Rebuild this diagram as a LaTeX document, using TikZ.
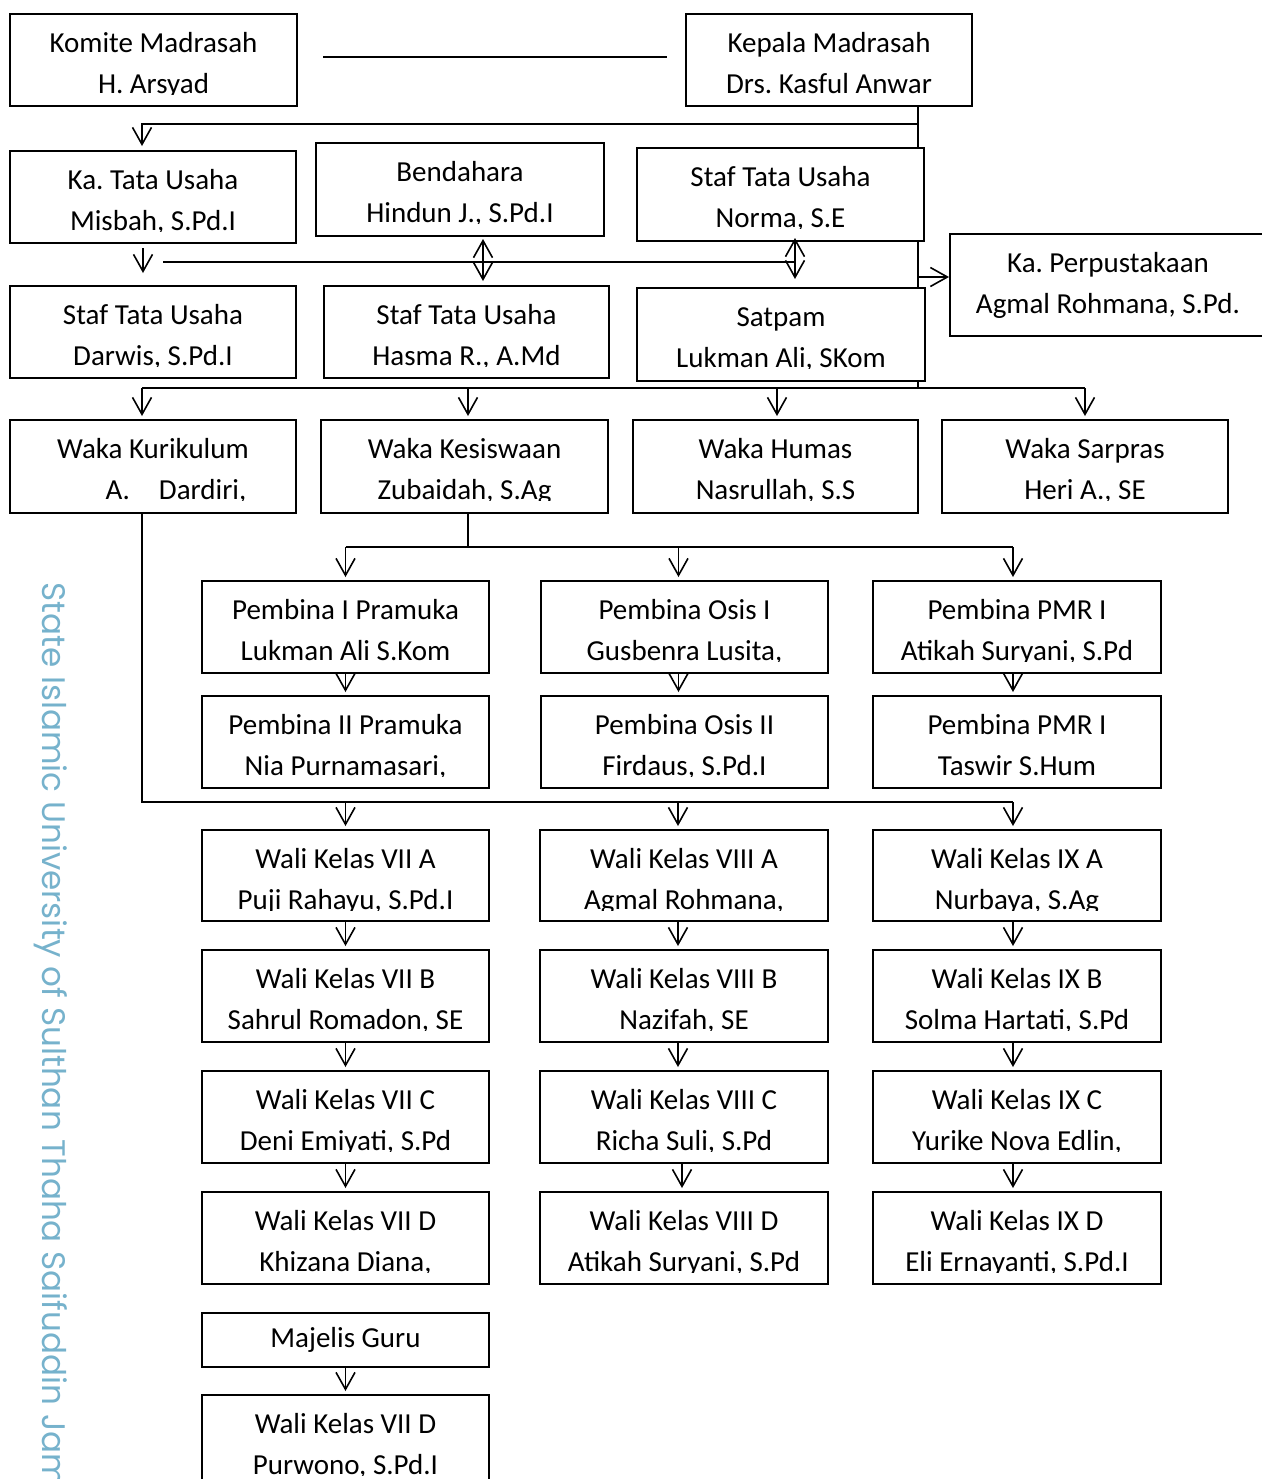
\documentclass[tikz,border=0pt]{standalone}
\usepackage{fontspec}
\setmainfont{Carlito}
\newfontfamily\wmfont{Poppins}
\usetikzlibrary{arrows.meta, backgrounds, calc}
\definecolor{wmblue}{RGB}{118,178,204}
\frenchspacing

\tikzset{
  cliptop/.initial=40.25pt,
  boxtext/.style={font=\fontsize{14.5}{17}\selectfont, inner sep=0pt, anchor=base,
    draw=none, fill=none, minimum width=0pt, minimum height=0pt},
  orgbox/.style 2 args={draw, fill=white, line width=1pt, inner sep=0pt,
    minimum width=143.5pt, minimum height=46pt,
    path picture={
      \clip ([yshift=-\pgfkeysvalueof{/tikz/cliptop}]path picture bounding box.north west) rectangle (path picture bounding box.north east);
      \node[boxtext] at ([yshift=-19.25pt]path picture bounding box.north) {#1};
      \node[boxtext] at ([yshift=-39.75pt]path picture bounding box.north) {#2};
    }},
  onebox/.style={draw, fill=white, line width=1pt, inner sep=0pt,
    minimum width=143.5pt, minimum height=27pt, font=\fontsize{14.5}{17}\selectfont},
  wmtext/.style={font=\wmfont\fontsize{16.3}{16.3}\selectfont, text=wmblue, inner sep=0pt},
  link/.style={line width=0.8pt},
  arr/.style={link, -{Straight Barb[length=8.5pt, width=9.5pt, line width=0.8pt]}},
  dblarr/.style={link, {Straight Barb[length=8.5pt, width=9.5pt, line width=0.8pt]}-{Straight Barb[length=8.5pt, width=9.5pt, line width=0.8pt]}},
}

\begin{document}
\begin{tikzpicture}[x=0.5pt, y=-0.5pt]
\useasboundingbox (0,0) rectangle (1262,1479);

\node[wmtext, rotate=-90, anchor=base west] (watermark) at (42,582) {State Islamic University of Sulthan Thaha Saifuddin Jam};

\node[orgbox={Komite Madrasah}{H. Arsyad}] (komite) at (153.5,60) {};
\node[orgbox={Kepala Madrasah}{Drs. Kasful Anwar}, minimum width=143pt] (kepala) at (829,60) {};

\node[orgbox={Ka. Tata Usaha}{Misbah, S.Pd.I}, minimum width=143pt] (katu) at (153,197) {};
\node[orgbox={Bendahara}{Hindun J., S.Pd.I}, minimum width=144pt, minimum height=46.5pt] (bendahara) at (460,189.5) {};
\node[orgbox={Staf Tata Usaha}{Norma, S.E}, minimum height=46.5pt] (stafnorma) at (780.5,194.5) {};
\node[orgbox={Ka. Perpustakaan}{Agmal Rohmana, S.Pd.}, minimum width=158pt, minimum height=51pt, cliptop=50pt] (perpus) at (1108,285) {};

\node[orgbox={Staf Tata Usaha}{Darwis, S.Pd.I}, minimum width=143pt] (stafdarwis) at (153,332) {};
\node[orgbox={Staf Tata Usaha}{Hasma R., A.Md}, minimum width=142.5pt] (stafhasma) at (466.5,332) {};
\node[orgbox={Satpam}{Lukman Ali, SKom}, minimum width=144pt, minimum height=46.5pt] (satpam) at (781,334.5) {};

\node[orgbox={Waka Kurikulum}{\hspace*{23pt}A.\hspace{14.5pt}Dardiri,}, minimum width=143pt, minimum height=46.5pt] (kurikulum) at (153,466.5) {};
\node[orgbox={Waka Kesiswaan}{Zubaidah, S.Ag}, minimum height=46.5pt] (kesiswaan) at (464.5,466.5) {};
\node[orgbox={Waka Humas}{Nasrullah, S.S}, minimum width=142.5pt, minimum height=46.5pt] (humas) at (775.5,466.5) {};
\node[orgbox={Waka Sarpras}{Heri A., SE}, minimum width=143pt, minimum height=46.5pt] (sarpras) at (1085,466.5) {};

\node[orgbox={Pembina I Pramuka}{Lukman Ali S.Kom}] (pramuka1) at (345.5,627) {};
\node[orgbox={Pembina Osis I}{Gusbenra Lusita,}] (osis1) at (684.5,627) {};
\node[orgbox={Pembina PMR I}{Atikah Suryani, S.Pd}, minimum width=144pt] (pmr1) at (1017,627) {};
\node[orgbox={Pembina II Pramuka}{Nia Purnamasari,}] (pramuka2) at (345.5,742) {};
\node[orgbox={Pembina Osis II}{Firdaus, S.Pd.I}] (osis2) at (684.5,742) {};
\node[orgbox={Pembina PMR I}{Taswir S.Hum}, minimum width=144pt] (pmr2) at (1017,742) {};

\node[orgbox={Wali Kelas VII A}{Puji Rahayu, S.Pd.I}, minimum height=45.5pt] (walisevenA) at (345.5,875.5) {};
\node[orgbox={Wali Kelas VII B}{Sahrul Romadon, SE}] (walisevenB) at (345.5,996) {};
\node[orgbox={Wali Kelas VII C}{Deni Emiyati, S.Pd}] (walisevenC) at (345.5,1117) {};
\node[orgbox={Wali Kelas VII D}{Khizana Diana,}] (walisevenD) at (345.5,1238) {};
\node[orgbox={Wali Kelas VIII A}{Agmal Rohmana,}, minimum width=144pt, minimum height=45.5pt] (walieightA) at (684,875.5) {};
\node[orgbox={Wali Kelas VIII B}{Nazifah, SE}, minimum width=144pt] (walieightB) at (684,996) {};
\node[orgbox={Wali Kelas VIII C}{Richa Suli, S.Pd}, minimum width=144pt] (walieightC) at (684,1117) {};
\node[orgbox={Wali Kelas VIII D}{Atikah Suryani, S.Pd}, minimum width=144pt] (walieightD) at (684,1238) {};
\node[orgbox={Wali Kelas IX A}{Nurbaya, S.Ag}, minimum width=144pt, minimum height=45.5pt] (walinineA) at (1017,875.5) {};
\node[orgbox={Wali Kelas IX B}{Solma Hartati, S.Pd}, minimum width=144pt] (walinineB) at (1017,996) {};
\node[orgbox={Wali Kelas IX C}{Yurike Nova Edlin,}, minimum width=144pt] (walinineC) at (1017,1117) {};
\node[orgbox={Wali Kelas IX D}{Eli Ernayanti, S.Pd.I}, minimum width=144pt] (walinineD) at (1017,1238) {};

\node[onebox] (majelis) at (345.5,1340) {Majelis Guru};
\node[orgbox={Wali Kelas VII D}{Purwono, S.Pd.I}] (purwono) at (345.5,1441) {};

\coordinate (spinetop) at ([xshift=44.5pt]kepala.south);
\coordinate (tubus) at (918,124);
\coordinate (tuline) at (163,262);
\coordinate (wakabus) at (918,388);
\coordinate (pbus) at (468,547);
\coordinate (wbus) at (142,802);

\begin{pgfonlayer}{background}
\draw[link] (spinetop) -- (wakabus);
\end{pgfonlayer}

\draw[link] ([shift={(12.5pt,1.5pt)}]komite.east) -- ([shift={(-9pt,1.5pt)}]kepala.west);
\draw[arr] (tubus) -| ([shift={(-5.5pt,2pt)}]katu.north);
\draw[arr] ([yshift=4pt]spinetop |- perpus.west) -- ([yshift=4pt]perpus.west);
\draw[arr] ([shift={(-5pt,-2pt)}]katu.south) -- ([shift={(-5pt,6pt)}]stafdarwis.north);
\draw[link] (tuline) -- ([xshift=7.25pt]tuline -| stafnorma.south);
\draw[dblarr] ([shift={(11.5pt,-1pt)}]bendahara.south) -- ([shift={(8.25pt,2pt)}]stafhasma.north);
\draw[dblarr] ([shift={(7.25pt,2pt)}]stafnorma.south) -- ([shift={(7pt,4pt)}]satpam.north);

\draw[link] ([xshift=-5.5pt]kurikulum.north |- wakabus) -- (sarpras.north |- wakabus);
\draw[arr] ([xshift=-5.5pt]kurikulum.north |- wakabus) -- ([shift={(-5.5pt,1.5pt)}]kurikulum.north);
\draw[arr] ([xshift=1.75pt]kesiswaan.north |- wakabus) -- ([shift={(1.75pt,1.5pt)}]kesiswaan.north);
\draw[arr] ([xshift=0.75pt]humas.north |- wakabus) -- ([shift={(0.75pt,1.5pt)}]humas.north);
\draw[arr] (sarpras.north |- wakabus) -- ([yshift=1.5pt]sarpras.north);

\draw[link] ([xshift=1.75pt]kesiswaan.south) -- (pbus);
\draw[link] (pramuka1.north |- pbus) -- ([xshift=-2pt]pmr1.north |- pbus);
\draw[arr] (pramuka1.north |- pbus) -- ([yshift=1.5pt]pramuka1.north);
\draw[arr] ([xshift=-3pt]osis1.north |- pbus) -- ([shift={(-3pt,1.5pt)}]osis1.north);
\draw[arr] ([xshift=-2pt]pmr1.north |- pbus) -- ([shift={(-2pt,1.5pt)}]pmr1.north);
\draw[arr] (pramuka1.south) -- ([yshift=1.5pt]pramuka2.north);
\draw[arr] ([xshift=-3pt]osis1.south) -- ([shift={(-3pt,1.5pt)}]osis2.north);
\draw[arr] ([xshift=-2pt]pmr1.south) -- ([shift={(-2pt,1.5pt)}]pmr2.north);

\draw[link] ([xshift=-5.5pt]kurikulum.south) |- ([xshift=-2pt]walinineA.north |- wbus);
\draw[arr] (walisevenA.north |- wbus) -- ([yshift=1.5pt]walisevenA.north);
\draw[arr] ([xshift=-3pt]walieightA.north |- wbus) -- ([shift={(-3pt,1.5pt)}]walieightA.north);
\draw[arr] ([xshift=-2pt]walinineA.north |- wbus) -- ([shift={(-2pt,1.5pt)}]walinineA.north);

\draw[arr] (walisevenA.south) -- ([yshift=1.5pt]walisevenB.north);
\draw[arr] (walisevenB.south) -- ([yshift=1.5pt]walisevenC.north);
\draw[arr] (walisevenC.south) -- ([yshift=1.5pt]walisevenD.north);
\draw[arr] ([xshift=-3pt]walieightA.south) -- ([shift={(-3pt,1.5pt)}]walieightB.north);
\draw[arr] ([xshift=-3pt]walieightB.south) -- ([shift={(-3pt,1.5pt)}]walieightC.north);
\draw[arr] ([xshift=-1pt]walieightC.south) -- ([shift={(-1pt,1.5pt)}]walieightD.north);
\draw[arr] ([xshift=-2pt]walinineA.south) -- ([shift={(-2pt,1.5pt)}]walinineB.north);
\draw[arr] ([xshift=-2pt]walinineB.south) -- ([shift={(-2pt,1.5pt)}]walinineC.north);
\draw[arr] ([xshift=-2pt]walinineC.south) -- ([shift={(-2pt,1.5pt)}]walinineD.north);
\draw[arr] (majelis.south) -- ([yshift=1.5pt]purwono.north);
\end{tikzpicture}
\end{document}
